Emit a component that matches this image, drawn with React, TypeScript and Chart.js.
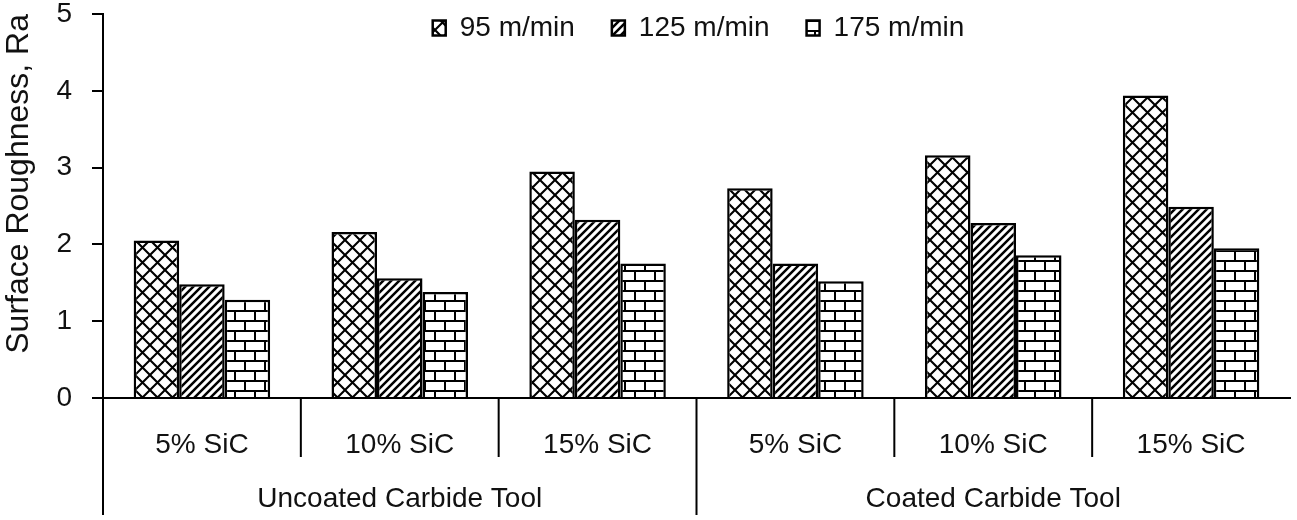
import { Chart, registerables } from 'chart.js';
import React, { useEffect, useRef } from 'react';

Chart.register(...registerables);

// Tick / category labels
const categories = ['5% SiC', '10% SiC', '15% SiC', '5% SiC', '10% SiC', '15% SiC'];
const groups = ['Uncoated Carbide Tool', 'Coated Carbide Tool'];
const seriesLabels = ['95 m/min', '125 m/min', '175 m/min'];

// Surface roughness Ra per cutting speed
const speed95 = [2.05, 2.16, 2.95, 2.73, 3.16, 3.94];
const speed125 = [1.48, 1.56, 2.32, 1.75, 2.28, 2.49];
const speed175 = [1.28, 1.38, 1.75, 1.52, 1.86, 1.95];

const FONT = '"Liberation Sans", Arial, sans-serif';

function makePattern(size: [number, number], draw: (c: CanvasRenderingContext2D) => void) {
  const cv = document.createElement('canvas');
  cv.width = size[0];
  cv.height = size[1];
  const c = cv.getContext('2d')!;
  c.fillStyle = '#fff';
  c.fillRect(0, 0, size[0], size[1]);
  c.strokeStyle = '#000';
  draw(c);
  return c.createPattern(cv, 'repeat')!;
}

function crossHatch() {
  const s = 15;
  return makePattern([s, s], (c) => {
    c.lineWidth = 2.1;
    c.beginPath();
    c.moveTo(-1, -1); c.lineTo(s + 1, s + 1);
    c.moveTo(s + 1, -1); c.lineTo(-1, s + 1);
    c.stroke();
  });
}

function diagHatch() {
  const s = 8;
  return makePattern([s, s], (c) => {
    c.lineWidth = 2.5;
    c.beginPath();
    c.moveTo(-2, s + 2); c.lineTo(s + 2, -2);
    c.moveTo(-2, 2); c.lineTo(2, -2);
    c.moveTo(s - 2, s + 2); c.lineTo(s + 2, s - 2);
    c.stroke();
  });
}

function brick() {
  return makePattern([20, 20], (c) => {
    c.lineWidth = 2;
    c.beginPath();
    c.moveTo(0, 1); c.lineTo(20, 1);
    c.moveTo(0, 11); c.lineTo(20, 11);
    c.moveTo(5, 1); c.lineTo(5, 11);
    c.moveTo(15, 11); c.lineTo(15, 21);
    c.stroke();
  });
}

// legend drawn inside the plot area at the top
const topLegend = {
  id: 'topLegend',
  afterDraw(chart: any) {
    const ctx = chart.ctx as CanvasRenderingContext2D;
    const { left, right, top } = chart.chartArea;
    const boxW = 13;
    const boxH = 15;
    const gap = 37;
    ctx.save();
    ctx.font = `28px ${FONT}`;
    const items = chart.data.datasets.map((ds: any) => ({
      label: ds.label,
      fill: ds.backgroundColor,
      w: boxW + 14 + ctx.measureText(ds.label).width,
    }));
    const total = items.reduce((s: number, it: any) => s + it.w, 0) + gap * (items.length - 1);
    let x = (left + right) / 2 - total / 2 + 2;
    const cy = top + 14;
    items.forEach((it: any) => {
      ctx.fillStyle = it.fill;
      ctx.fillRect(x, cy - boxH / 2, boxW, boxH);
      ctx.strokeStyle = '#000';
      ctx.lineWidth = 2.5;
      ctx.strokeRect(x, cy - boxH / 2, boxW, boxH);
      ctx.fillStyle = '#111';
      ctx.textBaseline = 'middle';
      ctx.textAlign = 'left';
      ctx.fillText(it.label, x + boxW + 14, cy);
      x += it.w + gap;
    });
    ctx.restore();
  },
};

// category separators under the x axis (short within a group, long between groups)
const groupLines = {
  id: 'groupLines',
  afterDraw(chart: any) {
    const ctx = chart.ctx as CanvasRenderingContext2D;
    const xs = chart.scales.x;
    const { left, bottom } = chart.chartArea;
    const perGroup = categories.length / groups.length;
    ctx.save();
    ctx.strokeStyle = '#000';
    ctx.lineWidth = 2;
    ctx.beginPath();
    ctx.moveTo(left, bottom);
    ctx.lineTo(left, bottom + 117);
    for (let i = 1; i < categories.length; i++) {
      const px = (xs.getPixelForValue(i - 1) + xs.getPixelForValue(i)) / 2;
      const len = i % perGroup === 0 ? 117 : 59;
      ctx.moveTo(px, bottom);
      ctx.lineTo(px, bottom + len);
    }
    ctx.stroke();
    ctx.restore();
  },
};

export default function App() {
  const chartRef = useRef<HTMLCanvasElement>(null);
  const chartInstanceRef = useRef<Chart | null>(null);

  useEffect(() => {
    if (!chartRef.current) return;

    const fills = [crossHatch(), diagHatch(), brick()];
    const values = [speed95, speed125, speed175];

    chartInstanceRef.current = new Chart(chartRef.current, {
      type: 'bar',
      data: {
        labels: categories,
        datasets: seriesLabels.map((label, i) => ({
          label,
          data: values[i],
          backgroundColor: fills[i] as any,
          borderColor: '#000',
          borderWidth: 2.5,
          categoryPercentage: 0.69,
          barPercentage: 1,
        })),
      },
      options: {
        responsive: true,
        maintainAspectRatio: false,
        animation: false,
        layout: { padding: { top: 14, right: 7, left: 0, bottom: 0 } },
        plugins: {
          legend: { display: false },
          tooltip: { enabled: false },
        },
        scales: {
          x: {
            offset: true,
            grid: { display: true, drawOnChartArea: false, drawTicks: false },
            border: { display: true, color: '#000', width: 2 },
            ticks: {
              autoSkip: false,
              maxRotation: 0,
              padding: 30,
              color: '#111',
              font: { family: FONT, size: 28 },
            },
            afterFit: (scale: any) => {
              scale.height = 60;
              scale.paddingLeft = 0;
              scale.paddingRight = 0;
            },
          },
          x2: {
            type: 'category',
            labels: groups,
            position: 'bottom',
            offset: true,
            grid: { display: false },
            border: { display: false },
            ticks: {
              autoSkip: false,
              maxRotation: 0,
              padding: 16,
              color: '#111',
              font: { family: FONT, size: 28 },
            },
            afterFit: (scale: any) => {
              scale.height = 62;
              scale.paddingLeft = 0;
              scale.paddingRight = 0;
            },
          },
          y: {
            min: 0,
            max: 5,
            ticks: {
              stepSize: 1,
              padding: 20,
              color: '#111',
              font: { family: FONT, size: 28 },
            },
            grid: { drawOnChartArea: false, drawTicks: true, tickLength: 11, color: '#000', lineWidth: 2 },
            border: { display: true, color: '#000', width: 2 },
            title: {
              display: true,
              text: 'Surface Roughness, Ra',
              align: 'end',
              color: '#111',
              padding: 0,
              font: { family: FONT, size: 32 },
            },
            afterFit: (scale: any) => {
              scale.width = 103;
              scale.paddingTop = 0;
              scale.paddingBottom = 0;
            },
          },
        },
      },
      plugins: [topLegend, groupLines],
    });

    return () => {
      if (chartInstanceRef.current) {
        chartInstanceRef.current.destroy();
        chartInstanceRef.current = null;
      }
    };
  }, []);

  return (
    <div style={{ position: 'fixed', left: 0, top: 0, width: 1297, height: 520, background: '#fff' }}>
      <canvas ref={chartRef} />
    </div>
  );
}
